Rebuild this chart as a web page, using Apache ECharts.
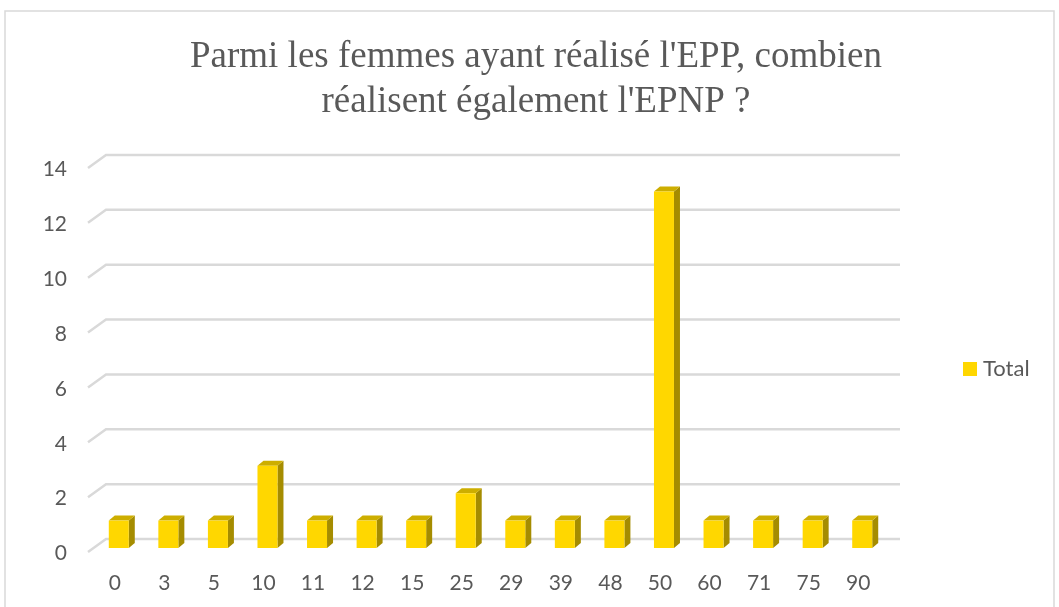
<!DOCTYPE html>
<html>
<head>
<meta charset="utf-8">
<script src="https://cdn.jsdelivr.net/npm/echarts@6/dist/echarts.min.js"></script>
<style>
  html, body { margin: 0; padding: 0; background: #fff; }
  #chart { width: 1059px; height: 607px; }
</style>
</head>
<body>
<div id="chart"></div>
<script>
const categories = ['0', '3', '5', '10', '11', '12', '15', '25', '29', '39', '48', '50', '60', '71', '75', '90'];
const values = [1, 1, 1, 3, 1, 1, 1, 2, 1, 1, 1, 13, 1, 1, 1, 1];
const yTicks = [0, 2, 4, 6, 8, 10, 12, 14];

const chart = echarts.init(document.getElementById('chart'));

// bars drawn as a fake 3D box: front, side, top
function renderBar(params, api) {
  const x = api.value(0);
  const v = api.value(1);
  const top = api.coord([x, v]);
  const base = api.coord([x, 0]);
  const w = 20, dx = 6, dy = 5;
  const l = top[0] - w / 2, r = top[0] + w / 2;
  return {
    type: 'group',
    children: [
      {
        type: 'polygon',
        shape: { points: [[r, top[1]], [r + dx, top[1] - dy], [r + dx, base[1] - dy], [r, base[1]]] },
        style: { fill: '#A58C00' }
      },
      {
        type: 'polygon',
        shape: { points: [[l, top[1]], [l + dx, top[1] - dy], [r + dx, top[1] - dy], [r, top[1]]] },
        style: { fill: '#CDAE00' }
      },
      {
        type: 'rect',
        shape: { x: l, y: top[1], width: w, height: base[1] - top[1] },
        style: { fill: '#FFD700' }
      }
    ]
  };
}

// back wall gridlines with the slanted floor edge
function renderGrid(params, api) {
  const y = api.coord([0, api.value(1)])[1];
  const cs = params.coordSys;
  return {
    type: 'polyline',
    shape: { points: [[cs.x - 6, y + 4], [cs.x + 12, y - 9], [cs.x + cs.width + 13, y - 9]] },
    style: { stroke: '#D9D9D9', lineWidth: 2.5, fill: null }
  };
}

chart.setOption({
  animation: false,
  title: {
    text: "Parmi les femmes ayant réalisé l'EPP, combien\nréalisent également l'EPNP ?",
    left: 531,
    textAlign: 'center',
    top: 30,
    textStyle: {
      fontFamily: 'Liberation Serif',
      fontWeight: 'normal',
      fontSize: 37,
      lineHeight: 45,
      color: '#595959'
    }
  },
  graphic: [{
    type: 'rect',
    shape: { x: 5, y: 11, width: 1049, height: 620 },
    style: { fill: null, stroke: '#D9D9D9', lineWidth: 1.5 },
    silent: true
  }],
  legend: {
    data: ['Total'],
    left: 958,
    top: 353,
    icon: 'rect',
    itemWidth: 14,
    itemHeight: 14,
    textStyle: { fontFamily: 'Lato', fontSize: 22, color: '#595959', padding: [0, 0, 0, 1] }
  },
  grid: { left: 94, right: 172, top: 164, bottom: 59 },
  xAxis: {
    type: 'category',
    data: categories,
    axisLine: { show: false },
    axisTick: { show: false },
    axisLabel: {
      margin: 25,
      fontFamily: 'Lato',
      fontSize: 21,
      color: '#595959',
      padding: [0, 8, 0, 0]
    }
  },
  yAxis: {
    type: 'value',
    min: 0,
    max: 14,
    interval: 2,
    splitLine: { show: false },
    axisLine: { show: false },
    axisTick: { show: false },
    axisLabel: {
      margin: 27,
      fontFamily: 'Lato',
      fontSize: 21,
      color: '#595959',
      verticalAlign: 'top',
      lineHeight: 11
    }
  },
  series: [
    {
      name: 'grid',
      type: 'custom',
      renderItem: renderGrid,
      data: yTicks.map(t => [0, t]),
      silent: true,
      z: 1
    },
    {
      name: 'Total',
      type: 'custom',
      renderItem: renderBar,
      itemStyle: { color: '#FFD700' },
      data: values.map((v, i) => [i, v]),
      z: 2
    }
  ]
});
</script>
</body>
</html>
